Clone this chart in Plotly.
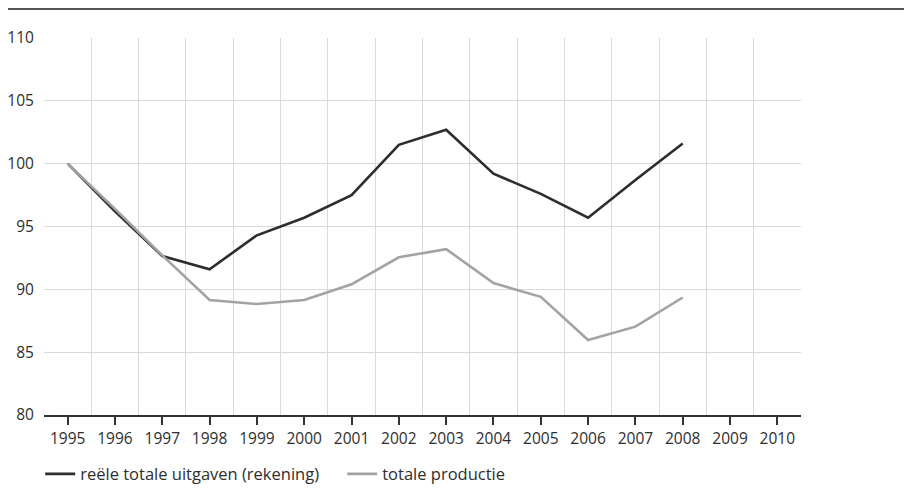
import plotly.graph_objects as go

years = [1995, 1996, 1997, 1998, 1999, 2000, 2001, 2002, 2003, 2004, 2005, 2006, 2007, 2008]
axis_years = list(range(1995, 2011))
tick_labels = [str(y) for y in axis_years]
uitgaven = [100.0, 96.2, 92.65, 91.6, 94.3, 95.7, 97.5, 101.5, 102.7, 99.2, 97.6, 95.7, 98.7, 101.6]
productie = [100.0, 96.4, 92.7, 89.15, 88.83, 89.15, 90.4, 92.55, 93.2, 90.5, 89.4, 85.97, 87.03, 89.35]
series_names = ["reële totale uitgaven (rekening)", "totale productie"]

FONT = "Open Sans"
TXT = "#2e2e2e"
fig = go.Figure()
fig.add_trace(go.Scatter(x=years, y=uitgaven, mode="lines", name=series_names[0],
                         line=dict(color="#2d2d2d", width=2.6)))
fig.add_trace(go.Scatter(x=years, y=productie, mode="lines", name=series_names[1],
                         line=dict(color="#a3a3a3", width=2.6)))

# page body has an 8px margin: figure is drawn 8px right/down of the window origin
fig.update_layout(
    width=904, height=493,
    margin=dict(l=36, r=111, t=30, b=86, autoexpand=False),
    paper_bgcolor="white", plot_bgcolor="white",
    font=dict(family=FONT, size=15, color=TXT),
    showlegend=True,
    legend=dict(orientation="h", x=-0.005, xanchor="left", y=-0.157, yanchor="middle",
                entrywidth=257, entrywidthmode="pixels",
                font=dict(family=FONT, size=16.5, color=TXT),
                bgcolor="rgba(0,0,0,0)"),
    xaxis=dict(range=[1994.5, 2010.5], tickmode="array", tickvals=axis_years, ticktext=tick_labels,
               automargin=False,
               showgrid=False, zeroline=False,
               showline=True, linecolor="#333333", linewidth=1.5,
               ticks="outside", ticklen=8, tickcolor="#333333", tickwidth=1.5,
               ticklabelstandoff=1,
               tickfont=dict(family=FONT, size=15.5, color=TXT),
               minor=dict(tickmode="linear", tick0=1994.5, dtick=1, showgrid=True,
                          gridcolor="#d9d9d9", gridwidth=1.2, ticks="")),
    yaxis=dict(range=[80, 110], dtick=5, tick0=80, automargin=False,
               showgrid=True, gridcolor="#d9d9d9", gridwidth=1.2,
               zeroline=False, showline=False, ticks="outside", ticklen=6, tickcolor="rgba(0,0,0,0)",
               tickfont=dict(family=FONT, size=15.5, color=TXT)),
    shapes=[dict(type="line", xref="paper", yref="paper",
                 x0=0 - 36 / 757, x1=(904 - 36) / 757, y0=(407 - 1) / 377, y1=(407 - 1) / 377,
                 line=dict(color="#555555", width=2))],
)

fig.write_html("out.html")
